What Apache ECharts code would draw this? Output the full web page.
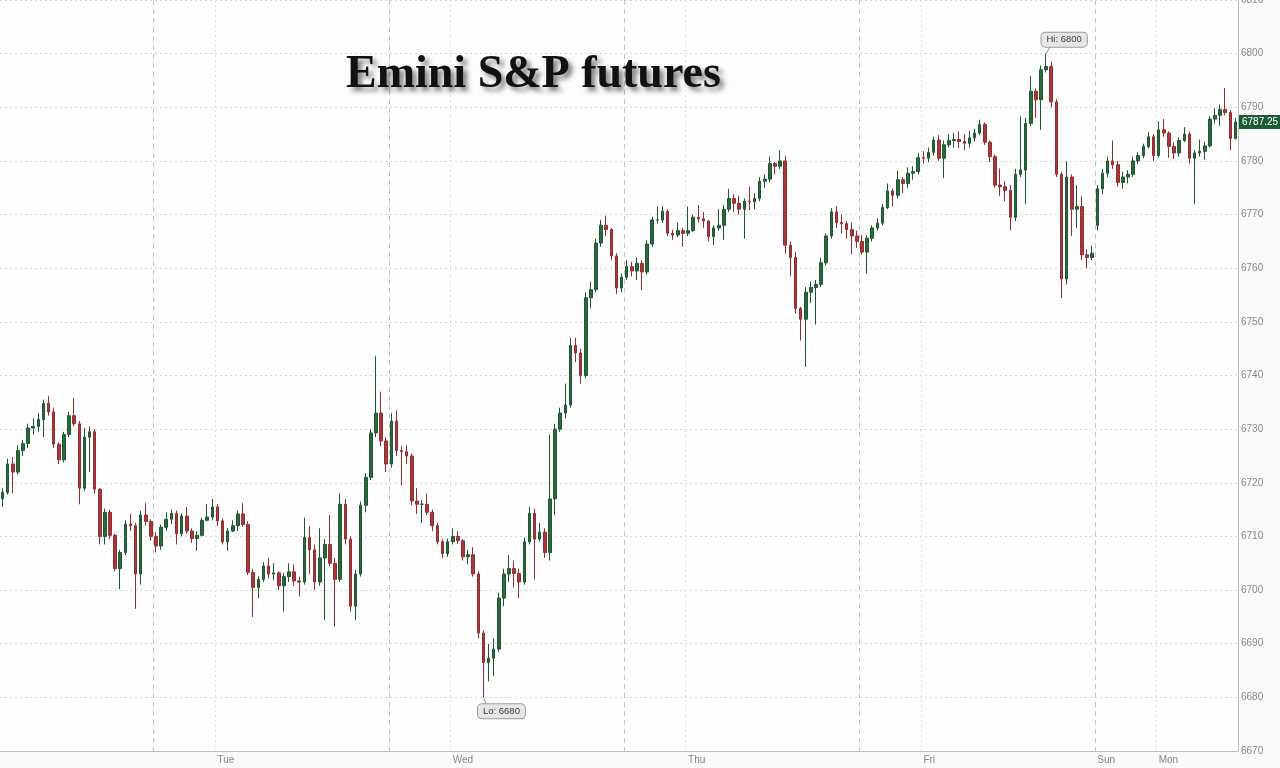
<!DOCTYPE html>
<html><head><meta charset="utf-8">
<script src="https://cdn.jsdelivr.net/npm/echarts@6/dist/echarts.min.js"></script>
<style>html,body{margin:0;padding:0;background:#f9f9f9}#c{width:1280px;height:768px}</style>
</head><body><div id="c"></div>
<script>
// Trading sessions shown: [day, start hour, number of 30-minute bars, opening price after a gap (null = continues)]
const sessions = [['Mon',2,30,6717],['Mon',18,46,null],['Tue',18,46,null],['Wed',18,46,null],['Thu',18,46,null],['Sun',18,28,6768]];
const closes = [
6718.2,6723.5,6722,6726,6727.3,6730.2,6730.5,6731.8,6734.8,6733.2,
6727.2,6724.3,6729,6732.5,6731,6719,6728.5,6729.5,6718.8,6710,
6714.5,6710.2,6704,6707,6712.3,6712,6703,6714,6712.8,6710,
6708.2,6711.7,6713.2,6714.3,6710.5,6713.8,6711,6709.6,6710.2,6713,
6713.6,6715.5,6712.9,6709,6711,6712,6714.2,6712.2,6703.3,6700.5,
6702,6704.5,6703,6703.2,6700.8,6702.5,6703.4,6701.7,6701.5,6709.8,
6707.5,6701.5,6706,6708.5,6705,6702,6716,6709.5,6697,6703,
6715.8,6721,6729.3,6733,6727.8,6723.5,6731.5,6726,6725.8,6725,
6716.6,6716,6716,6714.5,6712,6709,6706.8,6709,6710,6709.2,
6706.2,6706.6,6703,6692,6686.5,6687.3,6689,6698.5,6703,6704,
6703.1,6701.5,6709,6714.3,6709.5,6710.8,6707,6717,6730,6733,
6734.5,6745.6,6744.2,6740,6754.5,6756,6764.7,6768,6767.2,6762.3,
6756.3,6758.3,6760.3,6759.5,6760.9,6759.3,6764.5,6769,6769,6770.6,
6766.5,6766.2,6767,6766.5,6767,6769.5,6769.2,6768.8,6765.9,6767.5,
6768,6771,6773,6772.1,6771,6772.5,6772.4,6773,6776.2,6776.6,
6779.5,6779,6780,6764.3,6762,6752.5,6750.5,6755.5,6756.4,6757,
6761,6766,6770.5,6768.5,6768.3,6767.2,6766,6765,6763,6765.6,
6767.5,6768.4,6771.3,6774.4,6773.6,6776.5,6775.8,6777.7,6778,6780.6,
6780.5,6781.6,6783.9,6780.5,6783,6783.8,6784,6783.6,6783.3,6784.3,
6785.2,6786.8,6783.5,6780.8,6775.5,6775.2,6774.5,6769.5,6777.5,6778.3,
6787,6793,6791.4,6797,6797.6,6791,6777.5,6758,6777,6771,
6771.5,6762.5,6762,6762.8,6774.8,6777.7,6780,6779.3,6776,6777,
6777.5,6780,6781,6782.7,6784.5,6781,6785.8,6785.2,6782.7,6781.5,
6783.8,6785,6780.5,6781.5,6781.8,6782.8,6787.8,6788.5,6789.6,6789,
6784.2,6787.25];
const highs = [
6719,6724.5,6724.8,6727,6728,6731,6732,6733,6735.5,6736.2,
6734,6727.5,6729.5,6733.2,6735.8,6731.5,6730.2,6730.5,6730,6719,
6715.2,6715,6710.5,6707.5,6713,6714.2,6712.5,6714.8,6716.2,6713.2,
6710.8,6712.2,6714.5,6715,6714.8,6714.3,6715.5,6711.5,6711,6713.5,
6716,6717,6716,6713.3,6711.6,6713,6714.8,6716.2,6712.8,6704,
6702.6,6705.2,6706,6705,6703.5,6703.2,6705,6704.8,6702.5,6713.5,
6712,6708.5,6711.5,6709.5,6714,6706,6718,6717,6710,6703.8,
6716.5,6721.8,6730,6743.6,6737,6728.5,6733,6733.5,6726.8,6727,
6725.5,6719,6716.8,6718,6715,6712.5,6709.5,6709.6,6711.5,6711,
6709.5,6707.5,6708,6703.5,6692.5,6690,6691,6699.5,6704,6706.5,
6705.5,6704,6709.8,6715.5,6715.2,6712.5,6711.5,6729,6731,6734,
6738.5,6747,6747,6745,6755.5,6757.5,6765.5,6769,6769.8,6767.5,
6762.8,6759,6761.5,6761.2,6762,6761.5,6765.2,6769.6,6771.5,6771.6,
6771,6767.2,6768.5,6767.5,6771.5,6770,6771.8,6770.5,6769,6768,
6771,6771.8,6774.8,6773.8,6773.5,6773,6775.2,6774,6777,6777.5,
6780.8,6779.8,6782,6781,6765,6763,6752.8,6756.5,6757.5,6757.8,
6762,6766.5,6771.2,6771.6,6770,6768.8,6768.5,6767,6766.2,6766.2,
6768,6769.3,6772,6775.8,6774.8,6778.2,6777,6778.8,6779,6781.5,
6781.8,6782.5,6784.5,6784.8,6783.8,6785,6785.2,6785.5,6785,6785.6,
6786,6787.7,6787.2,6783.8,6781.2,6778.6,6776.2,6775.5,6778.5,6788.3,
6788,6795.8,6793.5,6797.8,6800,6798.5,6791.5,6778,6779.9,6777.5,
6775.5,6773.4,6763.5,6764.2,6775.5,6778.5,6780.8,6783.8,6780,6778,
6778.3,6780.8,6781.6,6783.2,6785.4,6785,6787.4,6787.8,6785.5,6783.5,
6784.4,6786.3,6785.5,6782,6784,6783.6,6788.4,6789.8,6790.5,6793.6,
6789.5,6788];
const lows = [
6715.5,6717.8,6718,6721.5,6725,6726.5,6729,6729.5,6728.5,6732.5,
6726.5,6723.5,6723.8,6728.5,6730.5,6716,6718.5,6722,6718,6708.5,
6708.5,6709.5,6703.5,6700.2,6706.5,6711,6696.5,6701,6712,6709.2,
6707,6707.5,6711,6712.3,6708.5,6710,6710.5,6708.8,6707.3,6710,
6712.8,6713,6712,6708.5,6707.3,6710.8,6711,6711.8,6702.8,6695,
6698.5,6701.5,6702.2,6701.8,6700,6696,6701.5,6700.8,6698.8,6701,
6703,6700,6700.8,6694.4,6704.5,6693.2,6701.5,6708.5,6696,6694.4,
6702.5,6714.5,6720.5,6728.5,6726.8,6722,6722.8,6725,6719.5,6723.5,
6715.8,6714.2,6712.5,6714,6711,6708.5,6706,6706.2,6708.5,6708.6,
6705.5,6704.8,6702.5,6691,6680,6683,6684,6688.5,6697,6701.5,
6700.5,6698.5,6701,6708.5,6702,6709,6706,6705.5,6714,6729.5,
6732,6734,6742.5,6738.5,6739.5,6752.5,6755.5,6764,6766,6761.5,
6755.2,6755.5,6757.8,6758.5,6757.8,6755.9,6758.8,6764,6768.3,6768.5,
6766,6765.3,6765.8,6764,6766,6766.8,6768.5,6767.5,6765,6764.3,
6767,6765.3,6770.5,6770.5,6770,6765.5,6770.8,6771,6772.5,6775,
6776,6777.5,6778.5,6762.7,6758.5,6751.5,6746.5,6741.6,6753.5,6749.5,
6756.5,6760.5,6765.5,6767.5,6766.5,6765.5,6762.6,6763.8,6762.5,6759,
6765,6767,6768,6771,6771.5,6773,6774,6775,6776.5,6777.5,
6779.5,6779.8,6781,6780,6776.8,6782.5,6782.5,6782.4,6782,6782.5,
6783.6,6784.8,6783,6779.8,6775,6773.5,6772.5,6767.1,6768.8,6777,
6772,6786.5,6788,6785.8,6796.5,6790,6777,6754.4,6757,6766,
6767.5,6761.5,6760,6761.5,6767,6773.8,6777,6778.5,6775.2,6774.8,
6775.8,6777,6779.4,6780.5,6782.3,6780,6780.6,6784.5,6780.6,6780.4,
6780.8,6783.5,6779.5,6772,6780.8,6780.2,6782.5,6787,6786.5,6788.5,
6782,6784];
const lastPrice = 6787.25;
const priceAxis = {min: 6670, max: 6810, step: 10};
const titleText = 'Emini S&P futures';

// category labels, e.g. "Tue 00:00"
const dayNames = ['Mon','Tue','Wed','Thu','Fri','Sat','Sun'];
const categories = [];
const gapOpens = [];
sessions.forEach(([d, h, n, open]) => {
  let di = dayNames.indexOf(d), m = h * 60;
  for (let k = 0; k < n; k++) {
    const hh = String(Math.floor(m / 60)).padStart(2, '0');
    const mm = String(m % 60).padStart(2, '0');
    categories.push(dayNames[di] + ' ' + hh + ':' + mm);
    gapOpens.push(k === 0 ? open : null);
    m += 30;
    if (m >= 1440) { m -= 1440; di = (di + 1) % 7; }
  }
});
const ohlc = closes.map((c, i) => {
  const o = (gapOpens[i] != null) ? gapOpens[i] : closes[i - 1];
  return [o, c, Math.min(lows[i], o, c), Math.max(highs[i], o, c)];
});
const isSep = (i) => categories[i].endsWith('18:00');
const isDay = (i) => categories[i].endsWith('00:00') || categories[i] === 'Sun 18:00';

const hiVal = Math.max(...highs), hiIdx = highs.indexOf(hiVal);
const loVal = Math.min(...lows), loIdx = lows.indexOf(loVal);

const boxLabel = {
  show: true, position: 'inside', color: '#3a3a3a', fontSize: 9.5, fontFamily: 'Liberation Sans',
  backgroundColor: '#e6e6e6', borderColor: '#9c9c9c', borderWidth: 1, borderRadius: 4, padding: [2, 5]
};

const chart = echarts.init(document.getElementById('c'), null, {renderer: 'canvas'});
chart.setOption({
  animation: false,
  backgroundColor: '#f9f9f9',
  title: {
    text: titleText, left: 346, top: 52, padding: 0,
    textStyle: {
      fontFamily: 'Liberation Serif', fontWeight: 'bold', fontSize: 46, color: '#111',
      textShadowColor: 'rgba(0,0,0,0.5)', textShadowBlur: 5, textShadowOffsetX: 4, textShadowOffsetY: 4
    }
  },
  grid: {left: 0, right: 42, top: 0, bottom: 17, show: true, backgroundColor: '#fdfdfd', borderWidth: 0,
    outerBoundsMode: 'none', containLabel: false},
  xAxis: [
    {
      type: 'category', data: categories, position: 'bottom', boundaryGap: true,
      axisLine: {show: true, lineStyle: {color: '#bdbdbd'}}, axisTick: {show: false}, axisLabel: {show: false},
      splitLine: {show: true, interval: (i) => isSep(i), lineStyle: {color: '#c4c4c4', type: [5, 4], width: 1}}
    },
    {
      type: 'category', data: categories, position: 'bottom', boundaryGap: true,
      axisLine: {show: false}, axisTick: {show: false},
      axisLabel: {show: true, interval: (i) => isDay(i), formatter: (v) => v.split(' ')[0], align: 'left',
        color: '#888', fontSize: 10, margin: 4, fontFamily: 'Liberation Sans'},
      splitLine: {show: true, interval: (i) => isDay(i) && !isSep(i), lineStyle: {color: '#dedede', type: [2, 3]}}
    }
  ],
  yAxis: {
    type: 'value', position: 'right', min: priceAxis.min, max: priceAxis.max, interval: priceAxis.step,
    axisLine: {show: true, lineStyle: {color: '#bdbdbd'}}, axisTick: {show: false},
    axisLabel: {color: '#888', fontSize: 10, margin: 3, fontFamily: 'Liberation Sans', formatter: (v) => String(v)},
    splitLine: {show: true, lineStyle: {color: '#d4d4d4', type: [2, 3]}}
  },
  series: [{
    type: 'candlestick', xAxisIndex: 0, data: ohlc, barWidth: '60%',
    itemStyle: {color: '#2b6a3e', color0: '#a8393b', borderColor: '#1f5630', borderColor0: '#8f2f31', borderWidth: 1},
    markLine: {
      symbol: 'none', silent: true, animation: false,
      lineStyle: {color: 'transparent', width: 0},
      label: {show: true, position: 'end', distance: 1, formatter: String(lastPrice), backgroundColor: '#1c5a36',
        color: '#fff', padding: [2, 3], fontSize: 10, fontFamily: 'Liberation Sans'},
      data: [{yAxis: lastPrice}]
    },
    markPoint: {
      silent: true, animation: false,
      data: [
        {coord: [categories[hiIdx], hiVal], symbol: 'circle', symbolSize: 0,
          label: Object.assign({}, boxLabel, {formatter: 'Hi: ' + hiVal, offset: [18, -14]})},
        {coord: [categories[hiIdx], hiVal], symbol: 'path://M0,7L4,0', symbolSize: [4, 7], symbolOffset: [2, -3.5],
          symbolKeepAspect: false, itemStyle: {color: 'transparent', borderColor: '#8c8c8c', borderWidth: 1}, label: {show: false}},
        {coord: [categories[loIdx], loVal], symbol: 'circle', symbolSize: 0,
          label: Object.assign({}, boxLabel, {formatter: 'Lo: ' + loVal, offset: [18, 14]})},
        {coord: [categories[loIdx], loVal], symbol: 'path://M0,0L3,7', symbolSize: [3, 7], symbolOffset: [1.5, 3.5],
          symbolKeepAspect: false, itemStyle: {color: 'transparent', borderColor: '#8c8c8c', borderWidth: 1}, label: {show: false}}
      ]
    }
  }]
});
</script>
</body></html>
